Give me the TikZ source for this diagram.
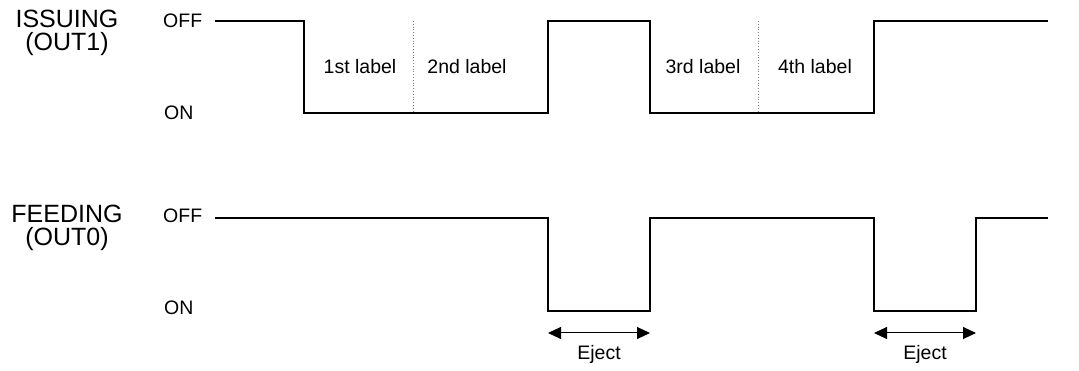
\documentclass[tikz,border=0pt]{standalone}
\usepackage{fontspec}
\setmainfont{Liberation Sans}
\usepackage{tikz}
\usetikzlibrary{arrows.meta}

\tikzset{
    signal/.style={line width=1.3pt, line join=miter},
    divider/.style={gray, dotted, line width=0.8pt},
    level/.style={font=\fontsize{19.5}{22}\selectfont, anchor=west, inner sep=0pt},
    channel/.style={font=\fontsize{25}{28}\selectfont, anchor=base, inner sep=0pt},
    tag/.style={font=\fontsize{19.5}{22}\selectfont},
    eject/.style={{Triangle[length=13pt,width=12pt]}-{Triangle[length=13pt,width=12pt]}, line width=1pt}
}

\begin{document}
\begin{tikzpicture}[x=1pt,y=-1pt]
    \useasboundingbox (0,0) rectangle (1079,371);
    % issuing signal
    \node[channel] (issuing) at (67,28) {ISSUING};
    \node[channel] (out1) at (67,51) {(OUT1)};
    \node[level] (off1) at (163,21) {OFF};
    \node[level] (on1) at (164,113) {ON};
    \draw[signal] (215,21) -- (304,21) -- (304,113) -- (548,113) -- (548,21) -- (650,21)
        -- (650,113) -- (874,113) -- (874,21) -- (1048,21);
    \draw[divider] (413,21) -- (413,113);
    \draw[divider] (758,21) -- (758,113);
    \node[tag] (lbl1) at (360,67) {1st label};
    \node[tag] (lbl2) at (467,67) {2nd label};
    \node[tag] (lbl3) at (703,67) {3rd label};
    \node[tag] (lbl4) at (815,67) {4th label};
    % feeding signal
    \node[channel] (feeding) at (67,223) {FEEDING};
    \node[channel] (out0) at (67,246) {(OUT0)};
    \node[level] (off0) at (163,216) {OFF};
    \node[level] (on0) at (164,308) {ON};
    \draw[signal] (215,218) -- (548,218) -- (548,311) -- (650,311) -- (650,218) -- (874,218)
        -- (874,311) -- (976,311) -- (976,218) -- (1048,218);
    % eject spans
    \coordinate (ej1a) at (548,333);
    \coordinate (ej1b) at (650,333);
    \coordinate (ej2a) at (874,333);
    \coordinate (ej2b) at (976,333);
    \draw[eject] (ej1a) -- (ej1b) node[tag, midway, below=9pt] (eject1) {Eject};
    \draw[eject] (ej2a) -- (ej2b) node[tag, midway, below=9pt] (eject2) {Eject};
\end{tikzpicture}
\end{document}
